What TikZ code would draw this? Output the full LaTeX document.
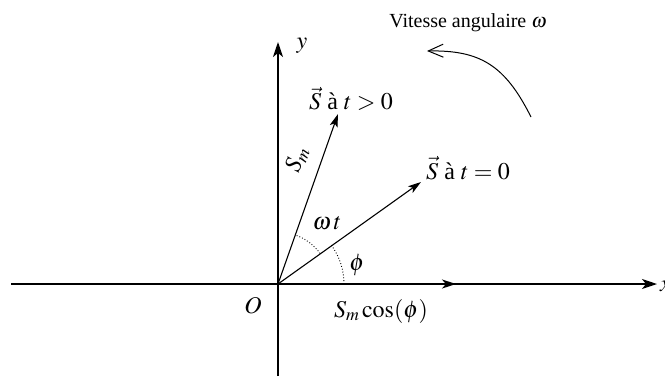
\documentclass[tikz,border=0pt]{standalone}
\usepackage{mathptmx}
\usepackage{fontspec}
\setmainfont{Liberation Serif}
\usetikzlibrary{arrows.meta,calc}
\tikzset{
  lbl/.style={inner sep=0pt, font=\fontsize{24}{28}\selectfont},
  axis/.style={line width=1.4pt, -{Stealth[length=15pt,width=10pt,inset=4pt]}},
  vect/.style={line width=1.1pt, -{Stealth[length=13pt,width=8pt,inset=3pt]}},
  angarc/.style={line width=0.9pt, dotted},
}
\begin{document}
\begin{tikzpicture}[x=1pt,y=-1pt]
\useasboundingbox (0,0) rectangle (665,376);
\coordinate (O) at (278,284);
\coordinate (xs) at (11,284);
\coordinate (xe) at (657,284);
\coordinate (ys) at (278,376);
\coordinate (ye) at (278,42);
\coordinate (S0) at (421,182);
\coordinate (S1) at (338,114);
\coordinate (P) at (456,284);
\coordinate (c1) at (531,117);
\coordinate (c2) at (427,51);
% axes
\draw[axis] (xs) -- (xe);
\draw[axis] (ys) -- (ye);
% vectors
\draw[vect] (O) -- (S0);
\draw[vect] (O) -- (S1);
\draw[line width=1.8pt, dash pattern=on 7pt off 3.5pt, -{Stealth[length=14pt,width=9pt,inset=4pt]}] (O) -- (P);
% angle arcs
\draw[angarc] ($(O)+(66,0)$) arc[start angle=0, end angle=-36, radius=66];
\draw[angarc] ($(O)+(-36:52)$) arc[start angle=-36, end angle=-70.5, radius=52];
% rotation arrow
\draw[line width=1pt, -{Straight Barb[length=15pt,width=13pt]}] (c1) .. controls (505,65) and (480,50) .. (c2);
% labels
\node[lbl] (ly) at (302,46) {$y$};
\node[lbl, anchor=west] (lx) at (660,286) {$x$};
\node[lbl] (lO) at (253,306) {$O$};
\node[lbl] (lcos) at (381,311) {$S_m\cos(\phi)$};
\node[lbl] (lphi) at (357,265) {$\phi$};
\node[lbl] (lwt) at (327,223) {$\omega\,t$};
\node[lbl, rotate=70.5] (lSm) at (297,160) {$S_m$};
\node[lbl] (lS1) at (351,99) {$\vec{S}$ à $t>0$};
\node[lbl] (lS0) at (468,168) {$\vec{S}$ à $t=0$};
\node[lbl, font=\fontsize{20}{24}\selectfont] (lw) at (468,23) {Vitesse angulaire $\omega$};
\end{tikzpicture}
\end{document}
